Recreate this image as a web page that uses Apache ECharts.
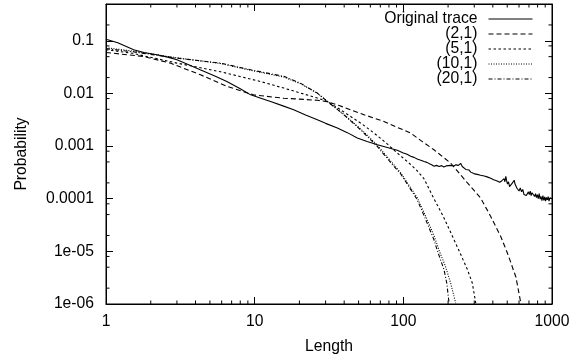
<!DOCTYPE html>
<html>
<head>
<meta charset="utf-8">
<script src="https://cdn.jsdelivr.net/npm/echarts@6/dist/echarts.min.js"></script>
<style>html,body{margin:0;padding:0;background:#fff;}#c{width:579px;height:361px;}</style>
</head>
<body>
<div id="c"></div>
<script>
const seriesNames = ['Original trace', '(2,1)', '(5,1)', '(10,1)', '(20,1)'];
const xTickValues = [1, 10, 100, 1000];
const xTickLabels = ['1', '10', '100', '1000'];
const yTickValues = [1e-6, 1e-5, 1e-4, 1e-3, 1e-2, 1e-1];
const yTickLabels = ['1e-06', '1e-05', '0.0001', '0.001', '0.01', '0.1'];
const xMinorTicks = [2,3,4,5,6,7,8,9,20,30,40,50,60,70,80,90,200,300,400,500,600,700,800,900];
const yMinorTicks = [2e-6,5e-6,8e-6,2e-5,5e-5,8e-5,2e-4,5e-4,8e-4,2e-3,5e-3,8e-3,2e-2,5e-2,8e-2,0.2];

const original = [[1,0.107],[1.2,0.092],[1.535,0.0675],[1.8,0.06],[2.205,0.0542],[2.6,0.049],[3.0,0.0436],[3.6,0.035],[4.3,0.0281],[5.3,0.022],[6.5,0.0169],[8,0.0123],[9.4,0.0094],[11,0.0081],[12.8,0.0070],[15.5,0.0058],[18.3,0.0049],[22,0.0039],[26.4,0.00316],[30,0.0027],[36,0.0022],[42,0.0018],[49,0.00142],[57,0.00122],[67,0.00106],[78,0.00094],[91,0.00083],[100,0.00074],[106,0.0007],[112,0.00064],[118,0.00061],[125,0.00056],[131,0.00054],[138,0.00051],[144,0.00049],[150,0.00046],[155,0.00044],[161,0.000415],[167,0.00043],[174,0.00041],[181,0.000425],[187,0.00040],[194,0.00042],[200,0.000415],[208,0.00043],[218,0.000418],[226,0.00044],[235,0.00043],[243,0.00047],[249,0.00041],[256,0.00039],[263,0.00036],[270,0.00033],[277,0.00035],[284,0.00032],[291,0.00034],[298,0.00030],[305,0.00031],[314,0.00029],[322,0.000305],[331,0.00028],[340,0.000295],[350,0.00027],[358,0.00029],[366,0.00026],[376,0.000265],[387,0.000245],[396,0.00026],[405,0.00023],[414,0.000245],[424,0.00022],[434,0.000235],[445,0.000205],[452,0.0002],[460,0.00022],[468,0.00021],[476,0.00024],[482,0.00021],[489,0.000265],[495,0.00022],[502,0.00019],[510,0.00021],[518,0.00017],[526,0.00018],[534,0.000165],[542,0.0002],[550,0.00019],[557,0.000225],[564,0.00019],[572,0.0002],[580,0.00016],[590,0.00017],[600,0.00014],[612,0.00016],[624,0.000135],[636,0.00015],[648,0.00012],[660,0.00013],[672,0.000115],[684,0.00011],[694,0.000135],[704,0.00012],[714,0.00014],[724,0.000115],[734,0.00013],[745,0.00012],[754,0.00014],[764,0.00011],[775,0.000125],[786,0.000105],[797,0.00012],[808,0.0001],[820,0.000125],[832,0.000098],[844,0.00011],[856,0.000092],[868,0.000115],[881,0.000093],[893,0.000108],[905,0.00009],[918,0.000106],[930,0.000095],[942,0.00011],[955,0.00009],[968,0.000104],[980,0.000096],[992,0.000108],[1000,0.0001]];

const s2_1 = [[1,0.060],[1.78,0.0504],[2.71,0.0377],[4.32,0.0226],[6.53,0.01355],[8.2,0.0111],[9.82,0.0094],[12,0.0088],[15.7,0.0081],[20,0.0078],[26.4,0.0074],[30.8,0.0070],[37,0.0059],[44.2,0.0049],[55,0.0039],[74,0.00293],[90,0.0023],[112,0.00177],[135,0.0012],[160.7,0.00085],[185,0.00062],[208,0.000476],[240,0.000295],[270,0.0002],[300,0.000142],[331,0.000103],[360,0.000067],[387,0.000046],[420,0.000029],[452,0.0000192],[480,0.0000126],[501,0.0000093],[530,0.000006],[550,0.0000044],[571,0.0000033],[595,0.0000018],[617,0.00000104]];

const s5_1 = [[1,0.068],[1.5,0.058],[3.0,0.0377],[5.9,0.0258],[10.9,0.0169],[15.7,0.01264],[20.3,0.0102],[26.4,0.00817],[30.8,0.00704],[37,0.0051],[44.2,0.00365],[53,0.0026],[63.4,0.00177],[76,0.00117],[91.1,0.000737],[108,0.00049],[124,0.00034],[137.6,0.00024],[160.7,0.0001],[185,0.000047],[208,0.000023],[240,0.0000095],[270,0.0000045],[291,0.0000025],[307,0.00000104]];

const s10_1 = [[1,0.074],[1.5,0.064],[3.0,0.0475],[5.9,0.037],[9.4,0.0275],[15.7,0.0205],[20.3,0.0153],[26.4,0.0101],[30.8,0.0071],[39.8,0.0040],[51.6,0.00212],[66.8,0.00104],[86.5,0.00044],[96,0.00031],[124,0.000105],[142,0.000045],[160.7,0.00002],[175,0.00001],[192,0.0000052],[208,0.0000025],[225,0.00000104]];

const s20_1 = [[1,0.071],[1.5,0.062],[3.0,0.0469],[5.9,0.0377],[9.4,0.0281],[15.7,0.0211],[20.3,0.0157],[26.4,0.01016],[30.8,0.00704],[39.8,0.00394],[51.6,0.00204],[66.8,0.000984],[86.5,0.00041],[95.9,0.000298],[124,0.000096],[142,0.000039],[160.7,0.0000166],[170,0.00001],[187.7,0.0000045],[196,0.0000025],[203,0.00000104]];

const FONT = 'Liberation Sans';
const FS = 15.7;

function fmt(vals, labels) {
  return function (v) {
    for (let i = 0; i < vals.length; i++) {
      if (Math.abs(Math.log10(v) - Math.log10(vals[i])) < 1e-6) return labels[i];
    }
    return '';
  };
}

const axisCommon = {
  axisLine: { show: true, lineStyle: { color: '#000', width: 1 } },
  axisTick: { show: true, inside: true, length: 7, lineStyle: { color: '#000', width: 1 } },
  splitLine: { show: false },
  minorTick: { show: false },
  minorSplitLine: { show: false }
};

const chart = echarts.init(document.getElementById('c'), null, { renderer: 'canvas' });

const dashTypes = ['solid', [5, 3], [2.5, 2.5], [1, 1.5], [4, 2, 1, 2]];
const seriesData = [original, s2_1, s5_1, s10_1, s20_1];

const lineSeries = seriesNames.map(function (name, i) {
  return {
    name: name,
    type: 'line',
    xAxisIndex: 0,
    yAxisIndex: 0,
    data: seriesData[i],
    symbol: 'none',
    showSymbol: false,
    smooth: false,
    animation: false,
    color: '#000',
    itemStyle: { color: '#000' },
    lineStyle: { color: '#000', width: 1.1, type: dashTypes[i] }
  };
});

const minorX = {
  type: 'custom',
  name: 'minorX',
  silent: true,
  animation: false,
  xAxisIndex: 0, yAxisIndex: 0,
  data: xMinorTicks.map(function (v) { return [v, 1e-6]; }),
  renderItem: function (params, api) {
    const p = api.coord([api.value(0), 1e-6]);
    const cs = params.coordSys;
    const top = cs.y, bot = cs.y + cs.height;
    const st = { stroke: '#000', lineWidth: 1 };
    return { type: 'group', children: [
      { type: 'line', shape: { x1: p[0], y1: bot, x2: p[0], y2: bot - 3.5 }, style: st },
      { type: 'line', shape: { x1: p[0], y1: top, x2: p[0], y2: top + 3.5 }, style: st }
    ] };
  }
};
const minorY = {
  type: 'custom',
  name: 'minorY',
  silent: true,
  animation: false,
  xAxisIndex: 0, yAxisIndex: 0,
  data: yMinorTicks.map(function (v) { return [1, v]; }),
  renderItem: function (params, api) {
    const p = api.coord([1, api.value(1)]);
    const cs = params.coordSys;
    const l = cs.x, r = cs.x + cs.width;
    const st = { stroke: '#000', lineWidth: 1 };
    return { type: 'group', children: [
      { type: 'line', shape: { x1: l, y1: p[1], x2: l + 3.5, y2: p[1] }, style: st },
      { type: 'line', shape: { x1: r, y1: p[1], x2: r - 3.5, y2: p[1] }, style: st }
    ] };
  }
};

chart.setOption({
  animation: false,
  backgroundColor: '#fff',
  textStyle: { fontFamily: FONT, color: '#000' },
  grid: { left: 106, right: 27, top: 4, bottom: 57, show: true, borderColor: '#000', borderWidth: 1, backgroundColor: 'transparent' },
  legend: {
    data: seriesNames,
    orient: 'vertical',
    align: 'right',
    right: 46,
    top: 11,
    padding: 0,
    itemWidth: 44,
    itemHeight: 10,
    itemGap: -1,
    selectedMode: false,
    itemStyle: { opacity: 0, borderWidth: 0 },
    lineStyle: { width: 1, color: '#000' },
    formatter: function (name) { return '{t|' + name + '}'; },
    textStyle: {
      fontFamily: FONT, fontSize: FS, color: '#000',
      rich: { t: { width: 100, align: 'right', fontFamily: FONT, fontSize: FS, color: '#000', lineHeight: 14, padding: [0, 6, 0, 0] } }
    }
  },
  xAxis: [
    Object.assign({}, axisCommon, {
      type: 'log', logBase: 10, min: 1, max: 1000, position: 'bottom',
      name: 'Length', nameLocation: 'middle', nameGap: 35,
      nameTextStyle: { fontFamily: FONT, fontSize: FS, color: '#000' },
      axisLabel: { show: true, margin: 10, fontFamily: FONT, fontSize: FS, color: '#000', formatter: fmt(xTickValues, xTickLabels) }
    }),
    Object.assign({}, axisCommon, {
      type: 'log', logBase: 10, min: 1, max: 1000, position: 'top',
      axisLabel: { show: false }
    })
  ],
  yAxis: [
    Object.assign({}, axisCommon, {
      type: 'log', logBase: 10, min: 1e-6, max: 0.5, position: 'left',
      name: 'Probability', nameLocation: 'middle', nameGap: 76, nameRotate: 90,
      nameTextStyle: { fontFamily: FONT, fontSize: FS, color: '#000' },
      axisLabel: { show: true, margin: 12, fontFamily: FONT, fontSize: FS, color: '#000', formatter: fmt(yTickValues, yTickLabels) }
    }),
    Object.assign({}, axisCommon, {
      type: 'log', logBase: 10, min: 1e-6, max: 0.5, position: 'right',
      axisLabel: { show: false }
    })
  ],
  series: lineSeries.concat([minorX, minorY])
});
</script>
</body>
</html>
